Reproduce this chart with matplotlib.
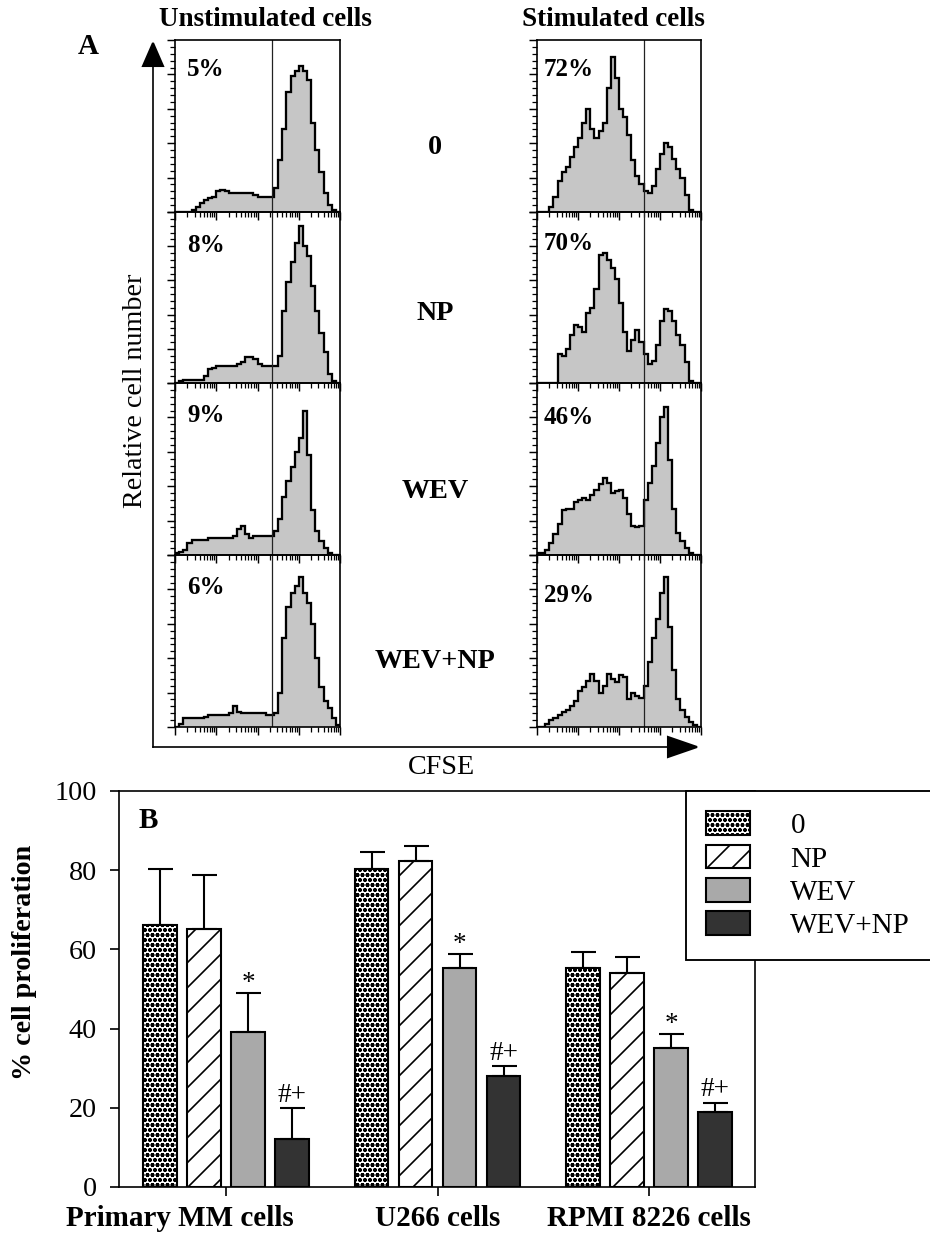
import numpy as np
import matplotlib
matplotlib.use("Agg")
import matplotlib.pyplot as plt
from matplotlib.patches import Polygon
from matplotlib.ticker import LogLocator, MultipleLocator, NullFormatter

# ---------------- data ----------------
treatments = ["0", "NP", "WEV", "WEV+NP"]

# Panel A: CFSE histograms (relative cell number, % of panel height), 40 log bins 10^0..10^4
unstim_0 = [0, 0, 0, 0, 1, 3, 5, 7, 8, 9, 12, 13, 12, 11, 11, 11, 11, 11, 11, 10,
            9, 9, 9, 9, 14, 30, 48, 70, 79, 82, 85, 82, 77, 52, 36, 23, 11, 4, 1, 0]
unstim_np = [0, 1, 2, 2, 2, 2, 2, 4, 8, 9, 10, 10, 10, 10, 10, 11, 12, 15, 15, 14,
             11, 10, 10, 10, 10, 16, 42, 59, 71, 82, 92, 80, 74, 57, 42, 29, 18, 5, 1, 0]
unstim_wev = [1, 2, 3, 7, 9, 9, 9, 9, 10, 10, 10, 10, 10, 10, 11, 15, 17, 12, 10, 11,
              11, 11, 11, 11, 14, 21, 34, 43, 51, 60, 68, 84, 58, 26, 14, 8, 4, 1, 0, 0]
unstim_wevnp = [0, 2, 5, 5, 5, 5, 5, 6, 7, 7, 7, 7, 7, 8, 12, 9, 8, 8, 8, 8,
                8, 8, 7, 7, 8, 20, 52, 70, 78, 82, 87, 78, 72, 60, 40, 23, 15, 11, 5, 1]

stim_0 = [0, 0, 0, 3, 9, 18, 23, 26, 32, 38, 43, 52, 60, 48, 43, 47, 52, 72, 90, 78,
          60, 55, 45, 30, 21, 16, 12, 11, 15, 25, 34, 40, 38, 31, 25, 20, 10, 1, 0, 0]
stim_np = [0, 0, 0, 0, 0, 17, 16, 20, 28, 34, 33, 30, 41, 44, 55, 75, 76, 72, 67, 61,
           47, 30, 19, 25, 31, 24, 17, 11, 13, 22, 36, 43, 42, 36, 28, 22, 12, 1, 0, 0]
stim_wev = [1, 1, 3, 7, 12, 18, 26, 27, 27, 31, 32, 33, 32, 35, 38, 41, 45, 42, 36, 37,
            38, 33, 24, 17, 16, 17, 32, 42, 52, 65, 80, 86, 55, 27, 13, 8, 4, 1, 0, 0]
stim_wevnp = [0, 0, 2, 4, 5, 7, 9, 10, 12, 15, 21, 23, 27, 31, 27, 20, 24, 31, 28, 26,
              30, 29, 16, 20, 18, 17, 24, 38, 52, 63, 78, 87, 58, 33, 16, 10, 6, 3, 1, 0]

unstim_pct = ["5%", "8%", "9%", "6%"]
stim_pct = ["72%", "70%", "46%", "29%"]
gate_unstim = 224
gate_stim = 407
cfse_edges = np.logspace(0, 4, 41)

# Panel B: % cell proliferation (mean, upper SD)
groups = ["Primary MM cells", "U266 cells", "RPMI 8226 cells"]
prolif_0 = [66.2, 80.2, 55.3]
err_0 = [14.0, 4.4, 4.0]
prolif_np = [65.1, 82.2, 54.0]
err_np = [13.8, 3.9, 4.2]
prolif_wev = [39.1, 55.3, 35.0]
err_wev = [9.8, 3.6, 3.6]
prolif_wevnp = [12.1, 28.1, 19.0]
err_wevnp = [7.8, 2.4, 2.3]
sig_wev = ["*", "*", "*"]
sig_wevnp = ["#+", "#+", "#+"]

# ---------------- figure ----------------
plt.rcParams["font.family"] = ["Liberation Serif", "DejaVu Serif"]
plt.rcParams["hatch.color"] = "black"
plt.rcParams["hatch.linewidth"] = 0.8

W, H, DPI = 930, 1237, 150
fig = plt.figure(figsize=(W / DPI, H / DPI), dpi=DPI, facecolor="white")


def px_axes(x0, y0, x1, y1, **kw):
    return fig.add_axes([x0 / W, 1 - y1 / H, (x1 - x0) / W, (y1 - y0) / H], **kw)


HIST_FILL = "#c6c6c6"
row_tops = [40, 212, 383, 555, 727]
columns = [
    dict(x=(175, 340), hists=[unstim_0, unstim_np, unstim_wev, unstim_wevnp],
         pct=unstim_pct, gate=gate_unstim, ptx=187, dy=[30, 33, 33, 33]),
    dict(x=(537, 701), hists=[stim_0, stim_np, stim_wev, stim_wevnp],
         pct=stim_pct, gate=gate_stim, ptx=544, dy=[30, 32, 35, 40]),
]

for col in columns:
    for r in range(4):
        ax = px_axes(col["x"][0], row_tops[r], col["x"][1], row_tops[r + 1])
        ax.patch.set_alpha(0)
        vals = col["hists"][r]
        ax.stairs(vals, cfse_edges, fill=True, color=HIST_FILL, lw=0)
        ax.stairs(vals, cfse_edges, color="black", lw=1.1)
        ax.axvline(col["gate"], color="#222222", lw=0.6)
        ax.set_xscale("log")
        ax.set_xlim(1, 1e4)
        ax.set_ylim(0, 100)
        ax.xaxis.set_major_locator(LogLocator(base=10, numticks=10))
        ax.xaxis.set_minor_locator(LogLocator(base=10, subs=np.arange(2, 10), numticks=10))
        ax.xaxis.set_major_formatter(NullFormatter())
        ax.xaxis.set_minor_formatter(NullFormatter())
        ax.yaxis.set_major_locator(MultipleLocator(20))
        ax.yaxis.set_minor_locator(MultipleLocator(4))
        ax.tick_params(which="major", direction="out", length=4, width=0.7,
                       labelbottom=False, labelleft=False)
        ax.tick_params(which="minor", direction="out", length=2.2, width=0.6)
        for s in ax.spines.values():
            s.set_linewidth(0.8)

# ---------------- Panel B ----------------
axb = px_axes(119, 791, 755, 1187)
gx = np.arange(len(groups))
step, width = 0.208, 0.158
series = [
    (prolif_0, err_0, dict(facecolor="white", hatch="ooooo"), None, 0.85),
    (prolif_np, err_np, dict(facecolor="white", hatch="//"), None, 0.8),
    (prolif_wev, err_wev, dict(facecolor="#a9a9a9"), sig_wev, 0.8),
    (prolif_wevnp, err_wevnp, dict(facecolor="#333333"), sig_wevnp, 0.8),
]
for i, (vals, errs, style, sig, hlw) in enumerate(series):
    plt.rcParams["hatch.linewidth"] = hlw
    xs = gx + (i - 1.5) * step
    bars = axb.bar(xs, vals, width, edgecolor="black", linewidth=1.0,
                   label=treatments[i], zorder=2, **style)
    for p in bars:
        if hasattr(p, "set_hatch_linewidth"):
            p.set_hatch_linewidth(hlw)
    axb.errorbar(xs, vals, yerr=[np.zeros(len(vals)), errs], fmt="none", ecolor="black",
                 elinewidth=1.0, capsize=6, capthick=1.0, zorder=3)
    if sig is not None:
        for x, v, e, s in zip(xs, vals, errs, sig):
            off = 1.5 if s == "*" else 3.0
            axb.annotate(s, (x, v + e), xytext=(0, off), textcoords="offset points",
                         ha="center", va="baseline", fontsize=13)

axb.set_xlim(-0.506, 2.501)
axb.set_ylim(0, 100)
axb.set_yticks([0, 20, 40, 60, 80, 100])
axb.set_xticks(gx, [""] + groups[1:])
for lbl in axb.get_xticklabels():
    lbl.set_fontweight("bold")
    lbl.set_fontsize(14)
# first category label sits left of its tick in the original
axb.annotate(groups[0], xy=(gx[0], 0), xycoords=("data", "axes fraction"),
             xytext=(-22, -8.5), textcoords="offset points", ha="center", va="top",
             fontsize=14, fontweight="bold", annotation_clip=False)
axb.tick_params(axis="y", direction="out", length=4.5, width=0.8, labelsize=13.5, pad=6)
axb.tick_params(axis="x", direction="out", length=4.5, width=0.8, pad=4)
for s in axb.spines.values():
    s.set_linewidth(0.8)

leg = axb.legend(loc="upper left",
                 bbox_to_anchor=(686 / W, 1 - 791 / H - 0.01, 260 / W, 0.01),
                 bbox_transform=fig.transFigure, mode="expand",
                 frameon=True, fancybox=False, edgecolor="black", framealpha=1,
                 fontsize=14, handlelength=1.48, handleheight=0.86, handletextpad=1.4,
                 labelspacing=0.19, borderpad=0.7, borderaxespad=0)
leg.get_frame().set_linewidth(0.9)

# ---------------- overlay: arrows & labels ----------------
ov = fig.add_axes([0, 0, 1, 1], zorder=10)
ov.set_xlim(0, W)
ov.set_ylim(H, 0)
ov.axis("off")

ov.plot([153, 153], [747, 62], color="black", lw=0.8)
ov.plot([153, 670], [747, 747], color="black", lw=0.8)
ov.add_patch(Polygon([[153, 43], [143, 66], [163, 66]], closed=True, color="black"))
ov.add_patch(Polygon([[697, 747], [668, 737], [668, 757]], closed=True, color="black"))

ov.text(265, 20, "Unstimulated cells", ha="center", va="center", fontsize=13, fontweight="bold")
ov.text(613, 20, "Stimulated cells", ha="center", va="center", fontsize=13, fontweight="bold")
ov.text(88, 46, "A", ha="center", va="center", fontsize=14, fontweight="bold")
ov.text(136, 391, "Relative cell number", ha="center", va="center", rotation=90, fontsize=13.5)
ov.text(441, 767, "CFSE", ha="center", va="center", fontsize=13.5)

row_label_y = [147, 313, 492, 661]
for name, y in zip(treatments, row_label_y):
    ov.text(435, y, name, ha="center", va="center", fontsize=13.5, fontweight="bold")

for col in columns:
    for r in range(4):
        ov.text(col["ptx"], row_tops[r] + col["dy"][r], col["pct"][r], ha="left", va="center",
                fontsize=12, fontweight="bold")

ov.text(148, 821, "B", ha="center", va="center", fontsize=14, fontweight="bold")
ov.text(25, 962, "% cell proliferation", ha="center", va="center", rotation=90,
        fontsize=13.5, fontweight="bold")

fig.savefig("out.png", dpi=DPI, facecolor="white")
